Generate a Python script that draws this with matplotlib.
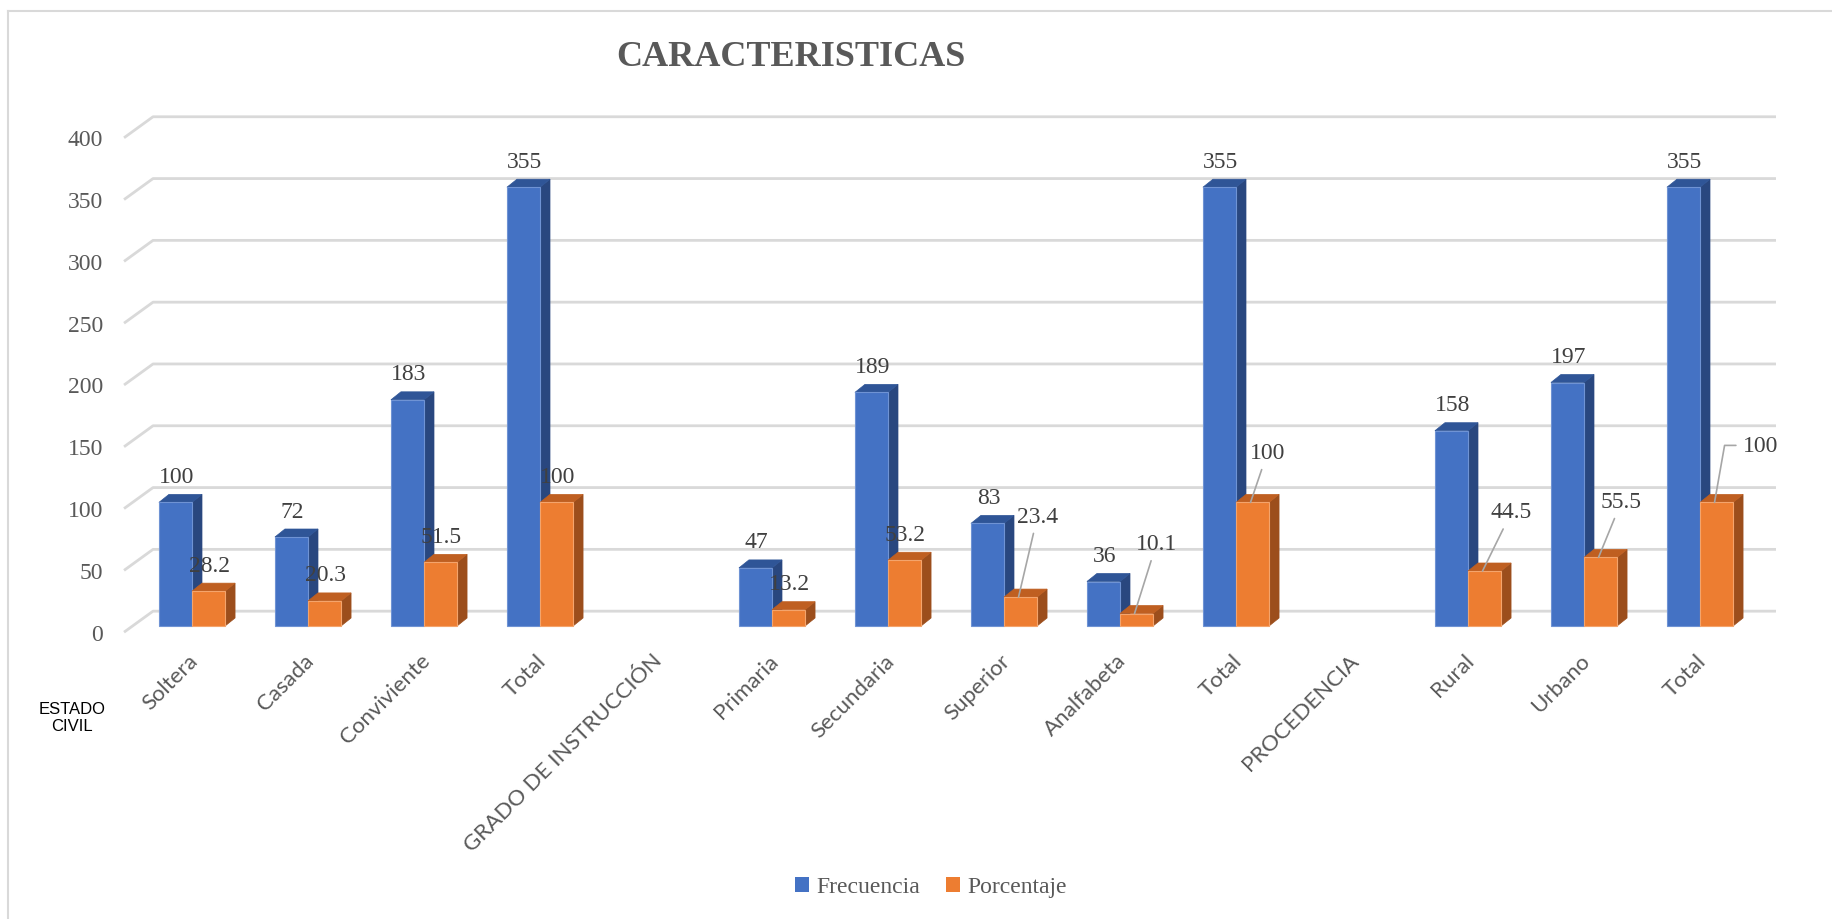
import numpy as np
import matplotlib
matplotlib.use("Agg")
import matplotlib.pyplot as plt
from matplotlib.patches import Polygon, Patch
from matplotlib.lines import Line2D

# Data
categories = ["Soltera", "Casada", "Conviviente", "Total", "GRADO DE INSTRUCCIÓN",
              "Primaria", "Secundaria", "Superior", "Analfabeta", "Total",
              "PROCEDENCIA", "Rural", "Urbano", "Total"]
frecuencia = [100, 72, 183, 355, np.nan, 47, 189, 83, 36, 355, np.nan, 158, 197, 355]
porcentaje = [28.2, 20.3, 51.5, 100, np.nan, 13.2, 53.2, 23.4, 10.1, 100, np.nan, 44.5, 55.5, 100]
y_ticks = [0, 50, 100, 150, 200, 250, 300, 350, 400]

# label offsets (pixels) for the percentage labels that use leader lines
leader_offsets = {7: (19, 81), 8: (22, 70), 9: (17, 50), 11: (29, 59), 12: (23, 56), 13: (46, 57)}

W, H, DPI = 1832, 920, 100
px_cat, px_val = 116.0, 1.236   # pixels per category / per value unit
cx0, cy0 = 192.0, 627.0         # pixel position of category 0 at value 0

fig = plt.figure(figsize=(W / DPI, H / DPI), dpi=DPI)
xlim = (-1.1, 14.0)
ylim = (-110, 440)
left_px = cx0 + xlim[0] * px_cat
bottom_px = cy0 - ylim[0] * px_val
ax = fig.add_axes([left_px / W, (H - bottom_px) / H,
                   (xlim[1] - xlim[0]) * px_cat / W, (ylim[1] - ylim[0]) * px_val / H])
ax.set_xlim(*xlim)
ax.set_ylim(*ylim)
ax.axis("off")

grid_col = "#d9d9d9"
text_gray = "#595959"
serif = "Liberation Serif"

# back wall gridlines with slanted floor part on the left
gx_front, gx_back, gx_end = -0.586, -0.336, 13.655
g_front_dy, g_back_dy = -5.0, 12.0
for v in y_ticks:
    ax.plot([gx_front, gx_back, gx_end], [v + g_front_dy, v + g_back_dy, v + g_back_dy],
            color=grid_col, lw=2, zorder=1, solid_capstyle="butt")
    ax.text(-0.767, v - 6.5, str(v), ha="right", va="center", fontsize=17,
            color=text_gray, family=serif)

# 3D-looking bars
bar_w = 0.285
ddx, ddy = 10 / px_cat, 8 / px_val
series = [
    (frecuencia, -bar_w, "#4472C4", "#2F5597", "#29477F", "#6f93d4"),
    (porcentaje, 0.0, "#ED7D31", "#BF5F21", "#9C4E1C", "#f4a46c"),
]


def draw_bar(x0, h, front, top, side, edge):
    ax.add_patch(Polygon([(x0 + bar_w, 0), (x0 + bar_w + ddx, ddy), (x0 + bar_w + ddx, h + ddy),
                          (x0 + bar_w, h)], closed=True, facecolor=side, edgecolor=side,
                         lw=0.5, zorder=3))
    ax.add_patch(Polygon([(x0, h), (x0 + bar_w, h), (x0 + bar_w + ddx, h + ddy), (x0 + ddx, h + ddy)],
                         closed=True, facecolor=top, edgecolor=top, lw=0.5, zorder=3))
    ax.add_patch(Polygon([(x0, 0), (x0 + bar_w, 0), (x0 + bar_w, h), (x0, h)], closed=True,
                         facecolor=front, edgecolor=edge, lw=0.8, zorder=3))


for i in range(len(categories)):
    for vals, off, front, top, side, edge in series:
        if not np.isnan(vals[i]):
            draw_bar(i + off, vals[i], front, top, side, edge)

# value labels
lab_size = 17
for i in range(len(categories)):
    f = frecuencia[i]
    if not np.isnan(f):
        ax.annotate(f"{f:g}", xy=(i - bar_w / 2, f), xytext=(1, 26), textcoords="offset pixels",
                    ha="center", va="center", fontsize=lab_size, color="#404040", family=serif, zorder=5)
    p = porcentaje[i]
    if not np.isnan(p):
        xc = i + bar_w / 2
        if i in leader_offsets:
            dx, dy = leader_offsets[i]
            conn = "angle,angleA=0,angleB=80,rad=0" if i == 13 else "arc3"
            ax.annotate(f"{p:g}", xy=(xc - 2 / px_cat, p), xytext=(dx, dy), textcoords="offset pixels",
                        ha="center", va="center", fontsize=lab_size, color="#404040", family=serif,
                        zorder=5,
                        arrowprops=dict(arrowstyle="-", color="#a6a6a6", lw=1.2, shrinkA=3, shrinkB=0,
                                        connectionstyle=conn))
        else:
            ax.annotate(f"{p:g}", xy=(xc, p), xytext=(1, 26), textcoords="offset pixels",
                        ha="center", va="center", fontsize=lab_size, color="#404040", family=serif, zorder=5)

# category labels rotated 45 degrees
for i, name in enumerate(categories):
    ax.annotate(name, xy=(i, 0), xytext=(-4, -24), textcoords="offset pixels",
                rotation=45, rotation_mode="anchor", ha="right", va="top",
                fontsize=16, color=text_gray, family="Lato")

# title, side note, legend
fig.text(791 / W, 1 - 57 / H, "CARACTERISTICAS", ha="center", va="center", fontsize=26,
         fontweight="bold", color=text_gray, family=serif)
fig.text(72 / W, 1 - 718 / H, "ESTADO\nCIVIL", ha="center", va="center", fontsize=12,
         color="black", family="Liberation Sans", linespacing=1.1)

handles = [Patch(facecolor="#4472C4", edgecolor="none", label="Frecuencia"),
           Patch(facecolor="#ED7D31", edgecolor="none", label="Porcentaje")]
leg = fig.legend(handles=handles, loc="center", bbox_to_anchor=(931 / W, 1 - 888 / H), ncol=2,
                 frameon=False, handlelength=0.6, handleheight=0.6, handletextpad=0.3,
                 columnspacing=1.1, prop={"family": serif, "size": 17})
for t in leg.get_texts():
    t.set_color(text_gray)

# chart frame (left and top edges visible)
fig.add_artist(Line2D([8 / W, 8 / W], [0, 1 - 12 / H], color=grid_col, lw=1.5))
fig.add_artist(Line2D([8 / W, 1], [1 - 12 / H, 1 - 12 / H], color=grid_col, lw=1.5))

fig.savefig("out.png", dpi=DPI)
